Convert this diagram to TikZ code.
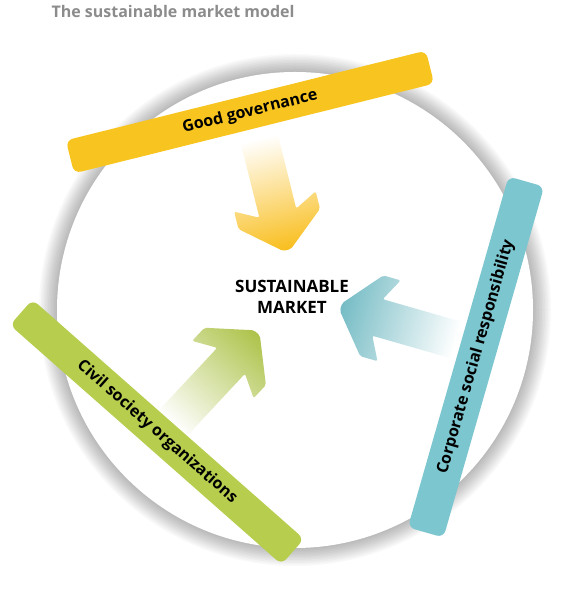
\documentclass[tikz,border=0pt]{standalone}
\usepackage{fontspec}
\setmainfont{Open Sans}
\usetikzlibrary{positioning}

\definecolor{govyellow}{RGB}{248,197,32}
\definecolor{csrteal}{RGB}{124,198,207}
\definecolor{csogreen}{RGB}{182,205,78}
\definecolor{titlegray}{RGB}{140,140,140}

\tikzset{
    bar/.style={rounded corners=7pt, minimum height=34, inner sep=0pt,
        font=\bfseries\fontsize{16}{18}\selectfont},
}

% fading arrow: tip x, tip y, direction, colour, length
\newcommand{\fadearrow}[5]{%
    \begin{scope}[transform canvas={shift={(#1,#2)}, rotate=#3}]
        \shade[left color=white, right color=#4, rounded corners=2]
            (-#5,-19) -- (-38,-19) -- (-50,-42) -- (-32,-42) -- (0,-4)
            -- (0,4) -- (-32,42) -- (-50,42) -- (-38,19) -- (-#5,19) -- cycle;
    \end{scope}}

\begin{document}
\begin{tikzpicture}[
                x=1pt, y=1pt,
            ]
                \fill[white] (0,0) rectangle (581,600);
                \useasboundingbox (0,0) rectangle (581,600);
                \node[anchor=base west, text=titlegray, font=\bfseries\fontsize{16}{18}\selectfont] (title) at (48,582) {The sustainable market model};
                % circle with soft shadow
                \coordinate (centre) at (295,290);
                \foreach \i in {1,...,12}
                    \fill[black, opacity=0.022] (centre) circle (238+\i*1.5);
                \fill[white] (centre) circle (238);
                % arrows towards the market
                \fadearrow{287}{350}{-76}{govyellow!90!orange}{115}
                \fadearrow{341}{293}{164}{csrteal!95!black}{120}
                \fadearrow{257}{267}{47}{csogreen!95!black}{125}
                % the three bars
                \node[bar, fill=govyellow, minimum width=371, rotate=14] (gov) at (250,488) {Good governance};
                \node[bar, fill=csrteal, minimum width=365, minimum height=37, rotate=74] (csr) at (476,243) {Corporate social responsibility};
                \node[bar, fill=csogreen, minimum width=362, rotate=-41.4] (cso) at (157,168) {Civil society organizations};
                \node[align=center, font=\bfseries\fontsize{17}{21}\selectfont] (market) at (292,303) {SUSTAINABLE\\MARKET};
            \end{tikzpicture}
\end{document}
